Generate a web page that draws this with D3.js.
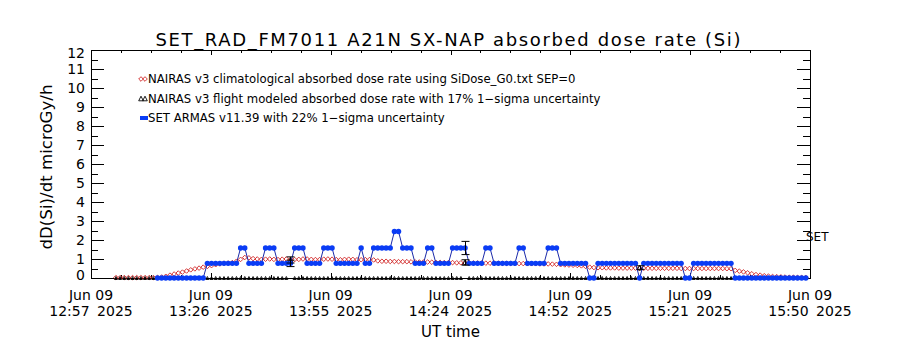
<!DOCTYPE html>
<html>
<head>
<meta charset="utf-8">
<script src="https://cdn.jsdelivr.net/npm/d3@7"></script>
<style>
    body { margin: 0; background: #fff; }
    text { font-family: "DejaVu Sans", sans-serif; fill: #000; }
</style>
</head>
<body>
<div id="chart"></div>
<script>
// x axis: IDL spreads 6 equal intervals between these two times
const axisStart = "2025-06-09T12:57:00Z"
const axisEnd = "2025-06-09T15:50:00Z"
const xTickTimes = ["12:57", "13:26", "13:55", "14:24", "14:52", "15:21", "15:50"]
const xTickDay = "Jun 09"
const xTickYear = "2025"
const yTicks = [0, 1, 2, 3, 4, 5, 6, 7, 8, 9, 10, 11, 12]

// one sample per minute
const naitasStart = "2025-06-09T13:03:00Z"
const setStart = "2025-06-09T13:13:00Z"

// NAIRAS v3 climatological dose rate (microGy/h)
const climDose = [
    0.02, 0.02, 0.02, 0.02, 0.02, 0.02, 0.02, 0.02, 0.02, 0.02,
    0.03, 0.05, 0.09, 0.15, 0.21, 0.26, 0.31, 0.37, 0.43, 0.48, 0.52, 0.57,
    0.61, 0.65, 0.70, 0.74, 0.78, 0.79, 0.81, 0.88, 0.98, 1.08, 1.06, 1.02,
    1.00, 0.98, 0.99, 1.00, 0.98, 0.97, 0.99, 1.00, 0.98, 0.97, 0.98, 1.00, 1.00, 0.98,
    0.97, 0.97, 0.99, 1.00, 0.99, 0.97, 0.96, 0.98, 0.99, 0.98, 0.96, 0.96, 0.97, 0.97,
    0.95, 0.90,
    0.88, 0.88, 0.87, 0.87, 0.86, 0.86, 0.86, 0.85, 0.85, 0.84, 0.84, 0.84, 0.83,
    0.82, 0.82, 0.81, 0.81, 0.81, 0.80, 0.80, 0.80, 0.80, 0.79, 0.79, 0.79, 0.78, 0.78, 0.78, 0.78, 0.77,
    0.77, 0.77, 0.76, 0.76, 0.76, 0.75, 0.75, 0.75, 0.74, 0.74, 0.74, 0.73, 0.72,
    0.70, 0.69, 0.68, 0.67, 0.66, 0.64, 0.61,
    0.57, 0.55, 0.54, 0.54, 0.53, 0.53, 0.53, 0.52, 0.52, 0.52, 0.52, 0.52, 0.51, 0.51, 0.51,
    0.51, 0.51, 0.51, 0.51, 0.51, 0.51, 0.51, 0.50, 0.50, 0.50, 0.50, 0.50, 0.50, 0.50, 0.50,
    0.50, 0.50, 0.50, 0.49, 0.49,
    0.40, 0.36, 0.32, 0.27, 0.22, 0.18, 0.15, 0.12, 0.10, 0.08, 0.07, 0.06, 0.05, 0.04, 0.04,
    0.03, 0.03, 0.03
]

// NAIRAS v3 flight modeled dose rate, same minutes (0 = no model point)
const flightDose = [
    0, 0, 0, 0, 0, 0, 0, 0, 0, 0, 0, 0, 0, 0, 0, 0, 0, 0, 0, 0, 0,
    0, 0, 0, 0, 0, 0, 0, 0, 0, 0, 0, 0, 0, 0, 0, 0, 0, 0, 0, 0, 0,
    0.95,
    0, 0, 0, 0, 0, 0, 0, 0, 0, 0, 0, 0, 0, 0, 0, 0, 0, 0, 0, 0, 0,
    0, 0, 0, 0, 0, 0, 0, 0, 0, 0, 0, 0, 0, 0, 0, 0, 0, 0, 0, 0,
    0.82,
    0, 0, 0, 0, 0, 0, 0, 0, 0, 0, 0, 0, 0, 0, 0, 0, 0, 0, 0, 0, 0,
    0, 0, 0, 0, 0, 0, 0, 0, 0, 0, 0, 0, 0, 0, 0, 0, 0, 0, 0, 0,
    0.55,
    0, 0, 0, 0, 0, 0, 0, 0, 0, 0, 0, 0, 0, 0, 0, 0, 0, 0, 0, 0,
    0, 0, 0, 0, 0, 0, 0, 0, 0, 0, 0, 0, 0, 0, 0, 0, 0, 0, 0, 0
]
const flightSigma = 0.17

// SET ARMAS measured dose rate
const setDose = [
    0, 0, 0, 0, 0, 0, 0, 0, 0, 0, 0, 0,
    0.77, 0.77, 0.77, 0.77, 0.77, 0.77, 0.77, 0.77,
    1.58, 1.58,
    0.77, 0.77, 0.77, 0.77,
    1.58, 1.58, 1.58,
    0.77, 0.77, 0.77, 0.77,
    1.58, 1.58, 1.58,
    0.77, 0.77, 0.77, 0.77,
    1.58, 1.58, 1.58,
    0.77, 0.77, 0.77, 0.77, 0.77, 0.77,
    1.58,
    0.77, 0.77,
    1.58, 1.58, 1.58, 1.58, 1.58,
    2.45, 2.45,
    1.58, 1.58, 1.58,
    0.77, 0.77, 0.77,
    1.58, 1.58,
    0.77, 0.77, 0.77, 0.77,
    1.58, 1.58, 1.58, 1.58,
    0.77, 0.77, 0.77, 0.77,
    1.58, 1.58,
    0.77, 0.77, 0.77, 0.77, 0.77, 0.77,
    1.58, 1.58,
    0.77, 0.77, 0.77, 0.77, 0.77,
    1.58, 1.58, 1.58,
    0.77, 0.77, 0.77, 0.77, 0.77, 0.77, 0.77,
    0, 0,
    0.77, 0.77, 0.77, 0.77, 0.77, 0.77, 0.77, 0.77, 0.77, 0.77,
    0,
    0.77, 0.77, 0.77, 0.77, 0.77, 0.77, 0.77, 0.77, 0.77, 0.77,
    0, 0,
    0.77, 0.77, 0.77, 0.77, 0.77, 0.77, 0.77, 0.77, 0.77, 0.77,
    0, 0, 0, 0, 0, 0, 0, 0, 0, 0, 0, 0, 0, 0, 0, 0, 0, 0
]
const setSigma = 0.22

const titleText = "SET_RAD_FM7011  A21N SX-NAP absorbed dose rate (Si)"
const legendLabels = [
    "NAIRAS v3 climatological absorbed dose rate using SiDose_G0.txt SEP=0",
    "NAIRAS v3 flight modeled absorbed dose rate with 17% 1\u2212sigma uncertainty",
    "SET ARMAS v11.39 with 22% 1\u2212sigma uncertainty"
]

const width = 900, height = 350
const margin = {top: 50, right: 90, bottom: 72, left: 91}
const red = "#d02525", blue = "#0a3cf5", navy = "#1c2aa8"

const svg = d3.select("#chart").append("svg")
    .attr("width", width)
    .attr("height", height)

const t0 = new Date(axisStart), t1 = new Date(axisEnd)
const x = d3.scaleUtc()
    .domain([t0, t1])
    .range([margin.left, width - margin.right])
const y = d3.scaleLinear()
    .domain([0, 12])
    .range([height - margin.bottom, margin.top])

const minute = (start, i) => new Date(+new Date(start) + i * 60000)

const clim = climDose.map((v, i) => ({t: minute(naitasStart, i), v: v}))
const flight = flightDose.map((v, i) => ({t: minute(naitasStart, i), v: v}))
const set = setDose.map((v, i) => ({t: minute(setStart, i), v: v}))

// ticks
const span = t1 - t0
const majorDates = d3.range(7).map(i => new Date(+t0 + i * span / 6))
const minorDates = d3.range(25).map(i => new Date(+t0 + i * span / 24))
const yMinor = yTicks.slice(0, -1).map(v => v + 0.5)

const x0 = margin.left, x1 = width - margin.right
const yb = height - margin.bottom, yt = margin.top

function tickAxis(axis, pos, values, size) {
    svg.append("g")
        .attr("transform", pos)
        .call(axis.tickValues(values).tickSize(-size).tickSizeOuter(0).tickFormat(""))
        .call(g => g.select(".domain").remove())
        .selectAll("line").attr("stroke", "#000").attr("shape-rendering", "crispEdges")
}

tickAxis(d3.axisBottom(x), `translate(0,${yb})`, majorDates, 5)
tickAxis(d3.axisBottom(x), `translate(0,${yb})`, minorDates, 3)
tickAxis(d3.axisTop(x), `translate(0,${yt})`, majorDates, 5)
tickAxis(d3.axisTop(x), `translate(0,${yt})`, minorDates, 3)
tickAxis(d3.axisLeft(y), `translate(${x0},0)`, yTicks, 13)
tickAxis(d3.axisLeft(y), `translate(${x0},0)`, yMinor, 7)
tickAxis(d3.axisRight(y), `translate(${x1},0)`, yTicks, 13)
tickAxis(d3.axisRight(y), `translate(${x1},0)`, yMinor, 7)

svg.append("rect")
    .attr("x", x0 + 0.5).attr("y", yt + 0.5)
    .attr("width", x1 - x0).attr("height", yb - yt)
    .attr("fill", "none").attr("stroke", "#000")

// tick labels (IDL pushes the end labels inside the box)
svg.append("g").selectAll("text")
    .data(yTicks)
    .join("text")
    .attr("x", x0 - 6)
    .attr("y", d => Math.min(Math.max(y(d), yt + 3), yb - 3))
    .attr("dy", "0.36em")
    .attr("text-anchor", "end")
    .attr("font-size", 14)
    .text(d => d)

const xl = svg.append("g").selectAll("g")
    .data(majorDates)
    .join("g")
    .attr("transform", d => `translate(${x(d)},0)`)
xl.append("text")
    .attr("y", yb + 22).attr("text-anchor", "middle").attr("font-size", 14)
    .text(xTickDay)
xl.append("text")
    .attr("y", yb + 38).attr("text-anchor", "middle").attr("font-size", 14)
    .attr("word-spacing", 3)
    .text((d, i) => xTickTimes[i] + " " + xTickYear)

svg.append("text")
    .attr("x", (x0 + x1) / 2).attr("y", yb + 59)
    .attr("text-anchor", "middle").attr("font-size", 15)
    .text("UT time")

svg.append("text")
    .attr("transform", `translate(52,167) rotate(-90)`)
    .attr("text-anchor", "middle").attr("font-size", 15)
    .attr("textLength", 165).attr("lengthAdjust", "spacingAndGlyphs")
    .text("dD(Si)/dt microGy/h")

svg.append("text")
    .attr("x", width / 2 - 2).attr("y", 46)
    .attr("text-anchor", "middle").attr("font-size", 18)
    .attr("textLength", 585).attr("lengthAdjust", "spacing")
    .text(titleText)

// symbols
const diamond = (cx, cy, s) => `M${cx},${cy - s}L${cx + s},${cy}L${cx},${cy + s}L${cx - s},${cy}Z`
const triangle = (cx, cy, s) => `M${cx - s},${cy + s}L${cx},${cy - s}L${cx + s},${cy + s}Z`

const plot = svg.append("g")

plot.append("g").selectAll("path")
    .data(clim)
    .join("path")
    .attr("d", d => diamond(x(d.t), y(d.v), 2.3))
    .attr("fill", "none").attr("stroke", red).attr("stroke-width", 0.9)

plot.append("g").selectAll("path")
    .data(flight)
    .join("path")
    .attr("d", d => triangle(x(d.t), y(d.v), d.v > 0 ? 2.5 : 1.5))
    .attr("fill", "none").attr("stroke", "#000").attr("stroke-width", 0.9)

plot.append("path")
    .datum(set)
    .attr("fill", "none").attr("stroke", navy).attr("stroke-width", 1)
    .attr("d", d3.line().x(d => x(d.t)).y(d => y(d.v)))

plot.append("g").selectAll("circle")
    .data(set)
    .join("circle")
    .attr("cx", d => x(d.t)).attr("cy", d => y(d.v))
    .attr("r", 2.7)
    .attr("fill", blue)

// error bars at the flight model points
const setByTime = new Map(set.map(d => [+d.t, d.v]))
const bars = []
flight.filter(d => d.v > 0).forEach(d => {
    bars.push({t: d.t, v: d.v, e: d.v * flightSigma})
    const s = setByTime.get(+d.t)
    if (s > 0) bars.push({t: d.t, v: s, e: s * setSigma})
})
const eb = plot.append("g").attr("stroke", "#000").attr("stroke-width", 1)
bars.forEach(b => {
    const cx = Math.round(x(b.t)) + 0.5
    eb.append("line").attr("x1", cx).attr("x2", cx).attr("y1", y(b.v - b.e)).attr("y2", y(b.v + b.e))
    eb.append("line").attr("x1", cx - 4).attr("x2", cx + 4).attr("y1", y(b.v - b.e)).attr("y2", y(b.v - b.e))
    eb.append("line").attr("x1", cx - 4).attr("x2", cx + 4).attr("y1", y(b.v + b.e)).attr("y2", y(b.v + b.e))
})

svg.append("text")
    .attr("x", x1 - 4).attr("y", y(2.15)).attr("dy", "0.36em")
    .attr("font-size", 12)
    .text("SET")

// legend
const legend = svg.append("g").attr("transform", "translate(140,79)")
const rowGap = 19.5
legend.selectAll("text")
    .data(legendLabels)
    .join("text")
    .attr("x", 8).attr("y", (d, i) => i * rowGap).attr("dy", "0.36em")
    .attr("font-size", 11.7)
    .text(d => d)
;[1, 5].forEach(dx => {
    legend.append("path").attr("d", diamond(dx, 0, 2.3))
        .attr("fill", "none").attr("stroke", red).attr("stroke-width", 0.9)
    legend.append("path").attr("d", triangle(dx, rowGap, 2.3))
        .attr("fill", "none").attr("stroke", "#000").attr("stroke-width", 0.9)
})
legend.append("line").attr("x1", 0).attr("x2", 8).attr("y1", 2 * rowGap).attr("y2", 2 * rowGap)
    .attr("stroke", blue).attr("stroke-width", 4)
</script>
</body>
</html>
